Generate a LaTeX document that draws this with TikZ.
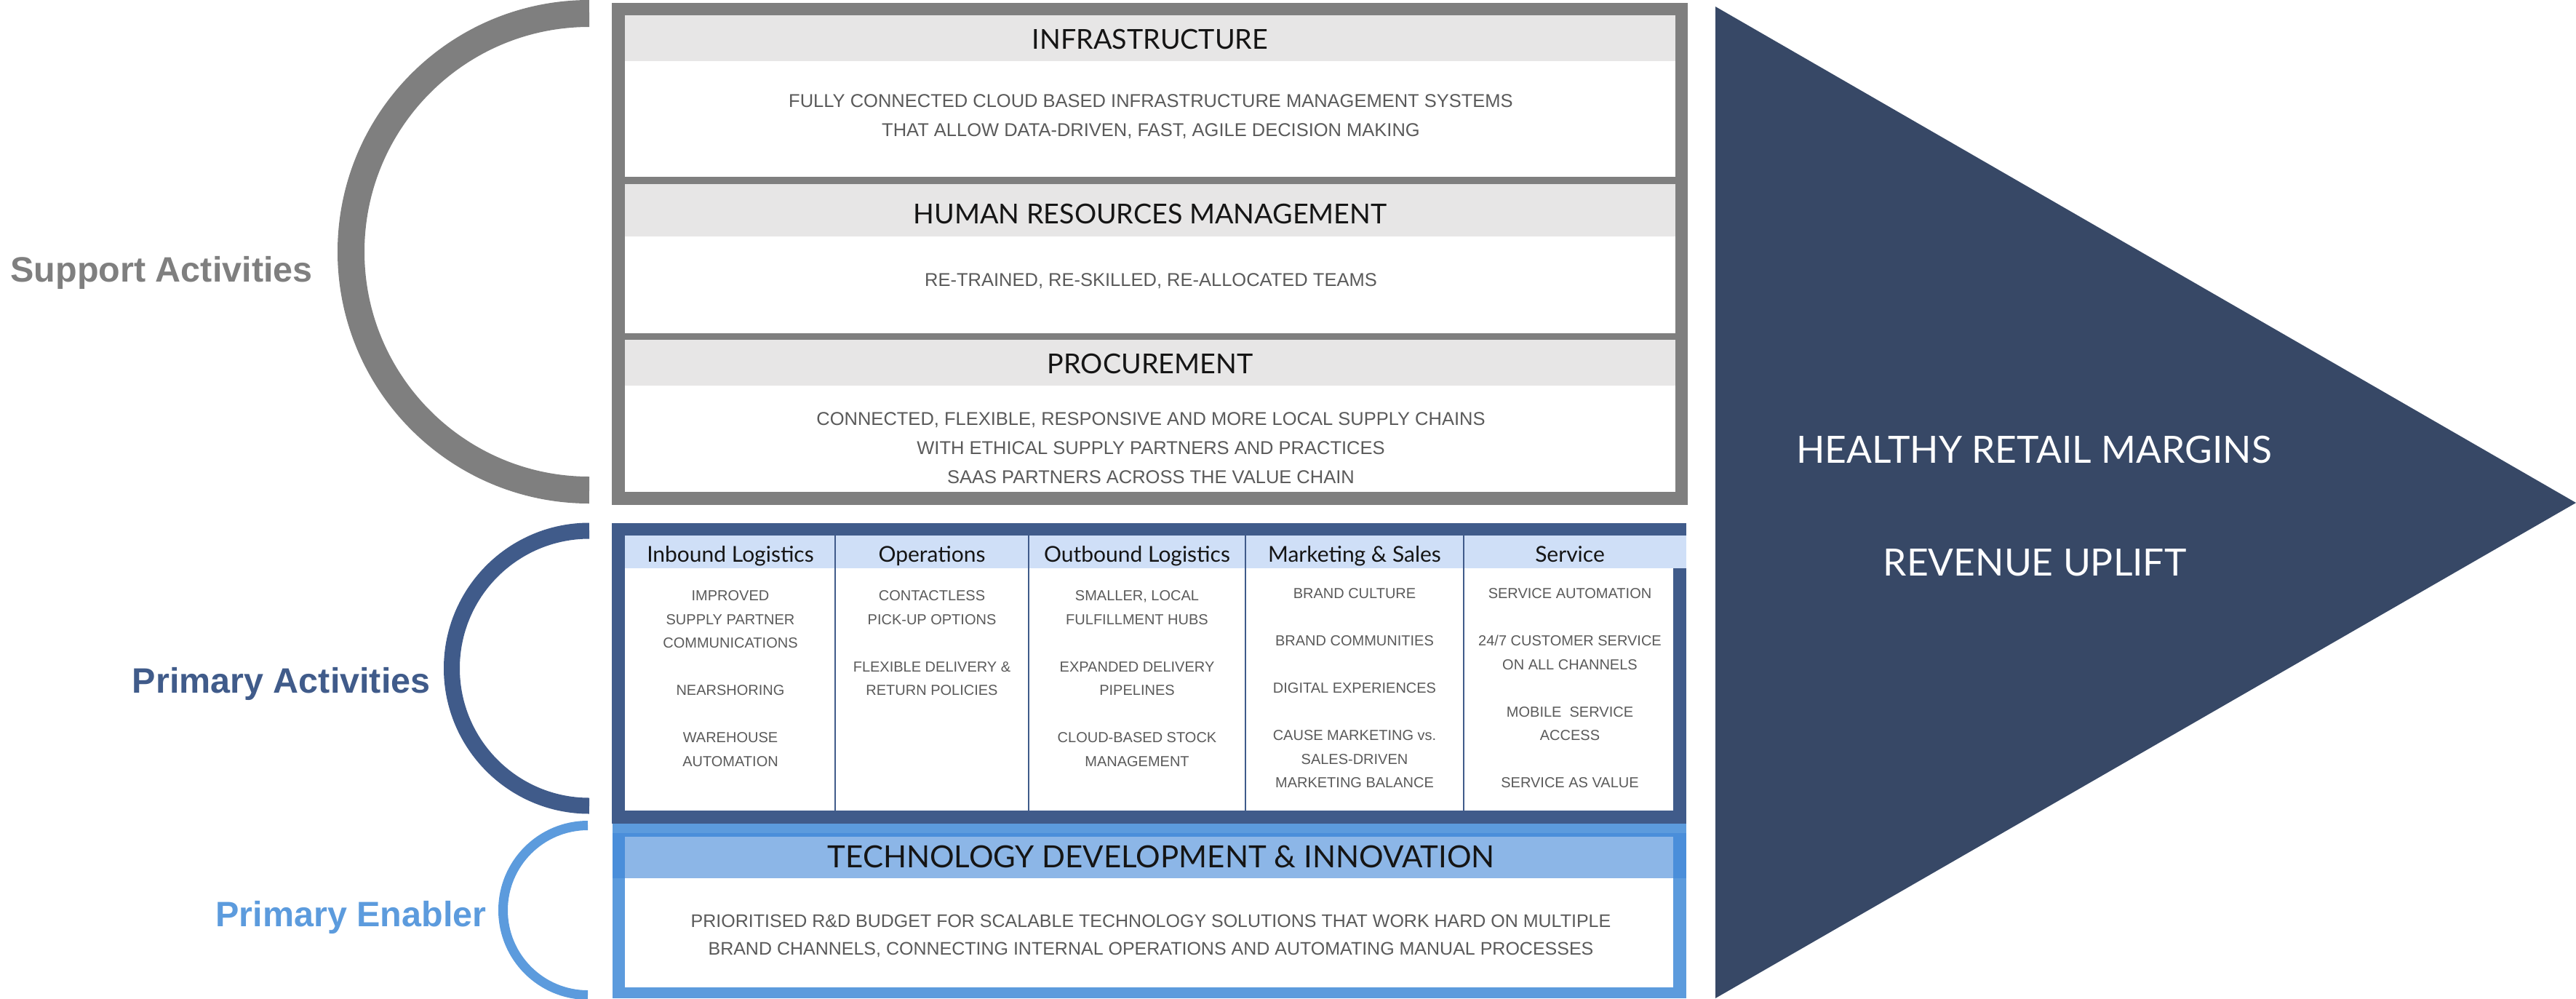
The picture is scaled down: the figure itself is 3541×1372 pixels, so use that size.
\documentclass[tikz,border=0pt]{standalone}
\usepackage{fontspec}
\setmainfont{Liberation Sans}
\newfontfamily\hdfont{Lato}
\definecolor{graybar}{HTML}{7F7F7F}
\definecolor{grayhead}{HTML}{E7E6E6}
\definecolor{darkbar}{HTML}{405B8A}
\definecolor{colhead}{HTML}{CFDFF7}
\definecolor{lightbar}{HTML}{5C9BDD}
\definecolor{lightbartwo}{HTML}{4A8EDA}
\definecolor{techhead}{HTML}{8CB6E7}
\definecolor{tri}{HTML}{374866}
\definecolor{bodygray}{HTML}{5A5A5A}
\definecolor{hdblack}{HTML}{151515}
\begin{document}
\begin{tikzpicture}[x=0.5pt,y=-0.5pt,
  hd/.style={inner sep=0pt, text=hdblack, font=\hdfont\fontsize{18.85pt}{22pt}\selectfont},
  colhd/.style={inner sep=0pt, anchor=base, text=hdblack, font=\hdfont\fontsize{15pt}{17pt}\selectfont},
  bd/.style={inner sep=0pt, align=center, text=bodygray, font=\fontsize{12.75pt}{20pt}\selectfont},
  colbd/.style={inner sep=0pt, align=center, anchor=north, text=bodygray, font=\fontsize{10pt}{16.25pt}\selectfont},
  lbl/.style={inner sep=0pt, anchor=base east, font=\bfseries\fontsize{24.25pt}{28pt}\selectfont},
  tritext/.style={inner sep=0pt, text=white, font=\hdfont\fontsize{25.8pt}{30pt}\selectfont},
  divider/.style={draw=darkbar, line width=1pt}
]
\useasboundingbox (0,0) rectangle (3541,1372);

% arcs
\draw[graybar, line width=18.5pt] (810,18.5) arc[start angle=90,end angle=270,radius=163.75pt];
\draw[darkbar, line width=11pt] (810,729.5) arc[start angle=90,end angle=270,radius=94.5pt];
\draw[lightbar, line width=6.5pt] (808,1134.5) arc[start angle=90,end angle=270,radius=58.25pt];

% support block
\fill[graybar] (841,4) rectangle (2320,694);
\fill[grayhead] (859,21) rectangle (2303,84);
\fill[white] (859,84) rectangle (2303,243);
\fill[grayhead] (859,253) rectangle (2303,325);
\fill[white] (859,325) rectangle (2303,458);
\fill[grayhead] (859,467) rectangle (2303,530);
\fill[white] (859,530) rectangle (2303,676);

% primary block
\fill[darkbar] (841,719) rectangle (2318,1132);
\fill[colhead] (859,736) rectangle (2318,781);
\fill[white] (859,781) rectangle (2300,1114);
\draw[divider] (1148,736) -- (1148,1114);
\draw[divider] (1414,736) -- (1414,1114);
\draw[divider] (1712,736) -- (1712,1114);
\draw[divider] (2012,736) -- (2012,1114);

% enabler block
\fill[lightbar] (842,1132) rectangle (2318,1372);
\fill[lightbartwo] (842,1145) rectangle (2318,1207);
\fill[techhead] (859,1150) rectangle (2300,1207);
\fill[white] (859,1207) rectangle (2300,1357);

% triangle
\fill[tri] (2358,9) -- (3541,691) -- (2358,1372) -- cycle;

% support texts
\node[hd] (infraH) at (1581,54) {INFRASTRUCTURE};
\node[bd, anchor=north] (infraB) at (1582,129) {FULLY CONNECTED CLOUD BASED INFRASTRUCTURE MANAGEMENT SYSTEMS\\THAT ALLOW DATA-DRIVEN, FAST, AGILE DECISION MAKING};
\node[hd] (hrH) at (1581,294) {HUMAN RESOURCES MANAGEMENT};
\node[bd] (hrB) at (1582,386) {RE-TRAINED, RE-SKILLED, RE-ALLOCATED TEAMS};
\node[hd] (procH) at (1581,500) {PROCUREMENT};
\node[bd, anchor=north] (procB) at (1582,566) {CONNECTED, FLEXIBLE, RESPONSIVE AND MORE LOCAL SUPPLY CHAINS\\WITH ETHICAL SUPPLY PARTNERS AND PRACTICES\\SAAS PARTNERS ACROSS THE VALUE CHAIN};

% primary headers
\node[colhd] (c1H) at (1004,772) {Inbound Logistics};
\node[colhd] (c2H) at (1281,772) {Operations};
\node[colhd] (c3H) at (1563,772) {Outbound Logistics};
\node[colhd] (c4H) at (1862,772) {Marketing \& Sales};
\node[colhd] (c5H) at (2158,772) {Service};

% primary bodies
\node[colbd] (c1B) at (1004,811.5) {IMPROVED\\SUPPLY PARTNER\\COMMUNICATIONS\\\mbox{}\\NEARSHORING\\\mbox{}\\WAREHOUSE\\AUTOMATION};
\node[colbd] (c2B) at (1281,811.5) {CONTACTLESS\\PICK-UP OPTIONS\\\mbox{}\\FLEXIBLE DELIVERY \&\\RETURN POLICIES};
\node[colbd] (c3B) at (1563,811.5) {SMALLER, LOCAL\\FULFILLMENT HUBS\\\mbox{}\\EXPANDED DELIVERY\\PIPELINES\\\mbox{}\\CLOUD-BASED STOCK\\MANAGEMENT};
\node[colbd] (c4B) at (1862,808.5) {BRAND CULTURE\\\mbox{}\\BRAND COMMUNITIES\\\mbox{}\\DIGITAL EXPERIENCES\\\mbox{}\\CAUSE MARKETING vs.\\SALES-DRIVEN\\MARKETING BALANCE};
\node[colbd] (c5B) at (2158,808.5) {SERVICE AUTOMATION\\\mbox{}\\24/7 CUSTOMER SERVICE\\ON ALL CHANNELS\\\mbox{}\\MOBILE\ \ SERVICE\\ACCESS\\\mbox{}\\SERVICE AS VALUE};

% enabler texts
\node[hd, font=\hdfont\fontsize{21pt}{24pt}\selectfont] (techH) at (1596,1177) {TECHNOLOGY DEVELOPMENT \& INNOVATION};
\node[bd, anchor=north, font=\fontsize{12.5pt}{19pt}\selectfont] (techB) at (1582,1257) {PRIORITISED R\&D BUDGET FOR SCALABLE TECHNOLOGY SOLUTIONS THAT WORK HARD ON MULTIPLE\\BRAND CHANNELS, CONNECTING INTERNAL OPERATIONS AND AUTOMATING MANUAL PROCESSES};

% triangle texts
\node[tritext] (marg) at (2796,618.5) {HEALTHY RETAIL MARGINS};
\node[tritext] (rev) at (2797,773) {REVENUE UPLIFT};

% left labels
\node[lbl, text=graybar] (supL) at (430,387) {Support Activities};
\node[lbl, text=darkbar] (priL) at (592,952) {Primary Activities};
\node[lbl, text=lightbar] (enaL) at (669,1273) {Primary Enabler};
\end{tikzpicture}
\end{document}
